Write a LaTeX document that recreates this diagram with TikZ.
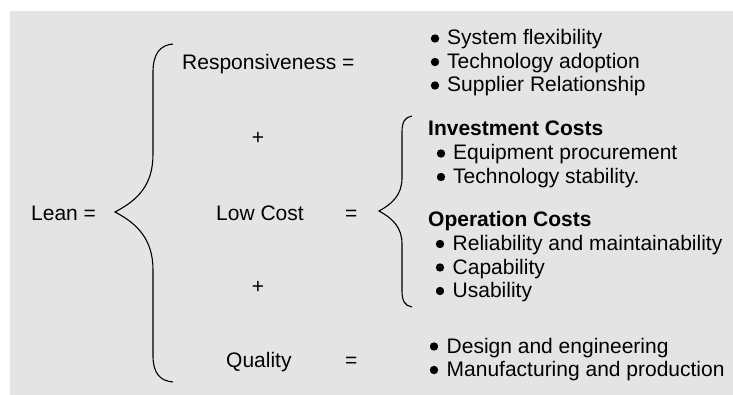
\documentclass[tikz,border=0pt]{standalone}
\usepackage{fontspec}
\setmainfont{Liberation Sans}
\usetikzlibrary{positioning}
\definecolor{panelgrey}{RGB}{228,228,228}
\tikzset{
  txt/.style={inner sep=0pt, anchor=base west, font=\fontsize{21}{23.5}\selectfont},
  hdr/.style={txt, font=\fontsize{21}{23.5}\selectfont\bfseries},
  opsign/.style={inner sep=0pt, font=\fontsize{21}{23.5}\selectfont},
  dotn/.style={circle, fill=black, minimum size=8.4pt, inner sep=0pt},
  brace/.style={draw=black, line width=1.1pt},
}

\begin{document}
\begin{tikzpicture}[x=1pt, y=-1pt]
  \useasboundingbox (0,0) rectangle (733,395);
  \fill[panelgrey] (10,11) rectangle (733,395);

  % left column
  \node[txt] (lean) at (31,221) {Lean =};
  \node[txt] (resp) at (182,70) {Responsiveness =};
  \node[opsign] (plus1) at (258,138) {+};
  \node[txt] (lowcost) at (216,221) {Low Cost};
  \node[txt] (eqcost) at (345,221) {=};
  \node[opsign] (plus2) at (258,287) {+};
  \node[txt] (quality) at (226,367) {Quality};
  \node[txt] (eqqual) at (345,367) {=};

  % big brace
  \draw[brace] (173,44) .. controls (160,45) and (153,54) .. (153,72)
    -- (153,154) .. controls (153,185) and (138,200) .. (115,212)
    .. controls (138,224) and (153,240) .. (153,270)
    -- (153,356) .. controls (153,373) and (160,381) .. (173,382);

  % small brace
  \draw[brace] (412,116) .. controls (405,117) and (402,122) .. (402,132)
    -- (402,178) .. controls (402,195) and (392,204) .. (379,211)
    .. controls (392,218) and (402,227) .. (402,244)
    -- (402,291) .. controls (402,301) and (405,306) .. (412,307);

  % responsiveness items
  \foreach \t [count=\i] in {System flexibility, Technology adoption, Supplier Relationship} {
    \node[dotn] (r\i dot) at (435,38.5+23.5*\i-23.5) {};
    \node[txt] (r\i) at (447,45+23.5*\i-23.5) {\t};
  }

  % cost items
  \node[hdr] (inv) at (428,136) {Investment Costs};
  \foreach \t [count=\i] in {Equipment procurement, Technology stability.} {
    \node[dotn] (c\i dot) at (441,153.5+23.5*\i-23.5) {};
    \node[txt] (c\i) at (453,160+23.5*\i-23.5) {\t};
  }
  \node[hdr] (op) at (428,227) {Operation Costs};
  \foreach \t [count=\i] in {Reliability and maintainability, Capability, Usability} {
    \node[dotn] (o\i dot) at (440,244+23.5*\i-23.5) {};
    \node[txt] (o\i) at (452.5,250.5+23.5*\i-23.5) {\t};
  }

  % quality items
  \foreach \t [count=\i] in {Design and engineering, Manufacturing and production} {
    \node[dotn] (q\i dot) at (434,346.5+23.5*\i-23.5) {};
    \node[txt] (q\i) at (446.5,353+23.5*\i-23.5) {\t};
  }
\end{tikzpicture}
\end{document}
